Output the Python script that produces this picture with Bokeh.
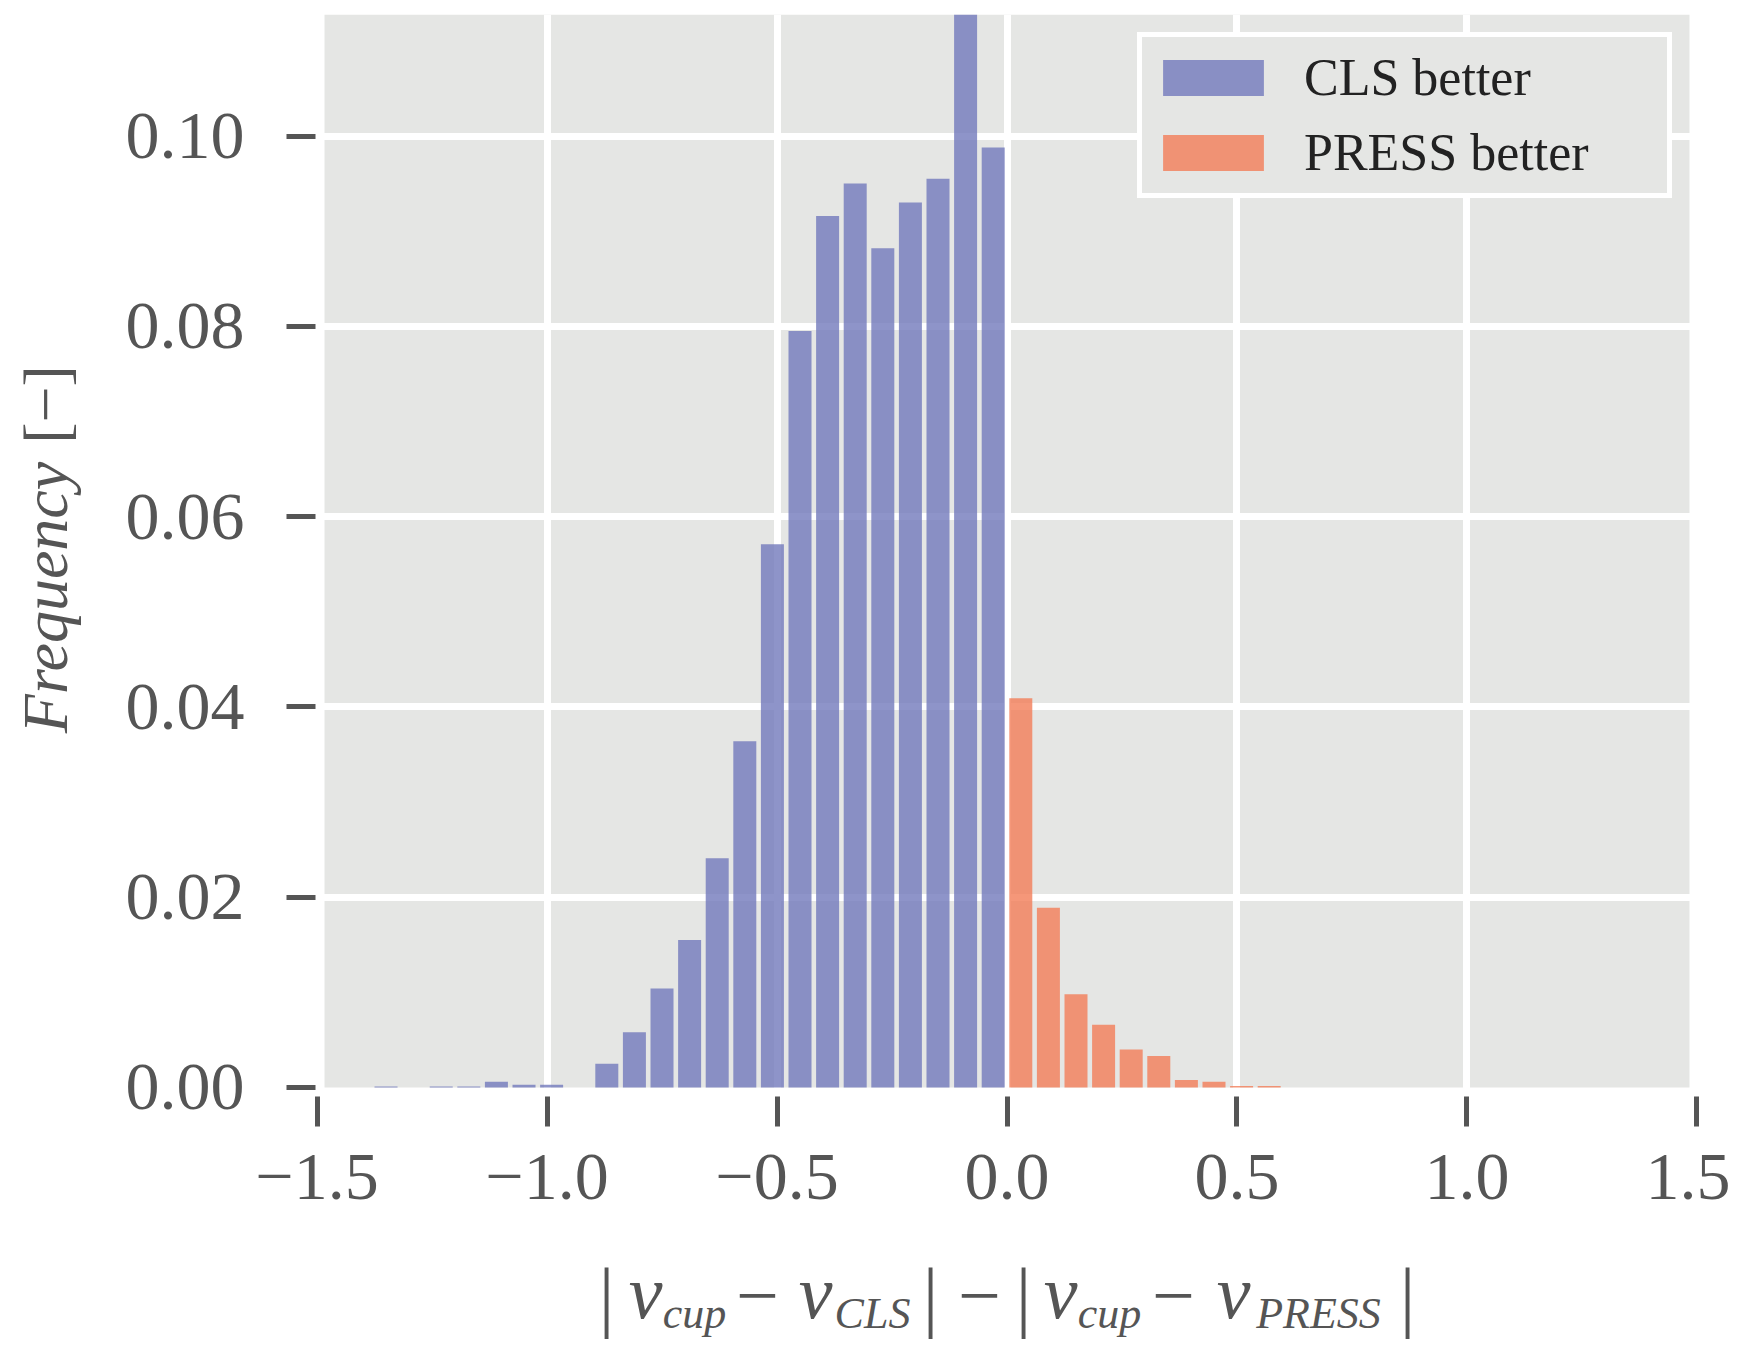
from bokeh.plotting import figure
from bokeh.layouts import column, row
from bokeh.models import Range1d, FixedTicker, Label, Legend, LegendItem
from bokeh.embed import file_html
from bokeh.resources import INLINE

# ---------------- data ----------------
cls_centers = [-1.35, -1.29, -1.23, -1.17, -1.11, -1.05, -0.99, -0.93, -0.87, -0.81,
               -0.75, -0.69, -0.63, -0.57, -0.51, -0.45, -0.39, -0.33, -0.27, -0.21,
               -0.15, -0.09, -0.03]
cls_freq = [0.0001, 0.0, 0.0001, 0.0001, 0.0006, 0.0003, 0.0003, 0.0, 0.0025, 0.0058,
            0.0104, 0.0155, 0.0241, 0.0364, 0.0571, 0.0795, 0.0916, 0.0950, 0.0882, 0.0930,
            0.0955, 0.1160, 0.0988]
press_centers = [0.03, 0.09, 0.15, 0.21, 0.27, 0.33, 0.39, 0.45, 0.51, 0.57]
press_freq = [0.0409, 0.0189, 0.0098, 0.0066, 0.0040, 0.0033, 0.0008, 0.0006, 0.00015, 0.00015]

x_ticks = [-1.5, -1.0, -0.5, 0.0, 0.5, 1.0, 1.5]
x_tick_labels = ["\u22121.5", "\u22121.0", "\u22120.5", "0.0", "0.5", "1.0", "1.5"]
y_ticks = [0.0, 0.02, 0.04, 0.06, 0.08, 0.10]
y_tick_labels = ["0.00", "0.02", "0.04", "0.06", "0.08", "0.10"]

legend_labels = ["CLS better", "PRESS better"]

# ---------------- style / layout ----------------
FONT = "Liberation Serif"
PANEL = "#e5e6e4"
BLUE = "#7279bb"
ORANGE = "#f27d58"
TXT = "#555555"
BAR_W = 0.05
PANEL_XMAX = 1.4837
X_END = 1.5033
Y_START, Y_END = -0.000946, 0.11277

W = 1730            # total width
WL = 110            # width of the y-title strip
H1 = 1240           # height of the main plot row
H2 = 102            # height of the x-title strip
FRAME_L, FRAME_T, FRAME_W, FRAME_H = 315, 14, 1383, 1082
FRAME_B = H1 - FRAME_T - FRAME_H

p = figure(width=W - WL, height=H1, output_backend="svg", toolbar_location=None,
           x_range=Range1d(-X_END, X_END), y_range=Range1d(Y_START, Y_END),
           min_border_left=FRAME_L - WL, min_border_right=W - FRAME_L - FRAME_W,
           min_border_top=FRAME_T, min_border_bottom=FRAME_B)
p.background_fill_color = "white"
p.border_fill_color = "white"
p.outline_line_color = None

# grey panel (drawn beneath grid lines)
p.quad(left=[-PANEL_XMAX], right=[PANEL_XMAX], bottom=[0], top=[Y_END],
       fill_color=PANEL, line_color=None, level="image")

# grid
p.xgrid.ticker = FixedTicker(ticks=[t for t in x_ticks if abs(t) < PANEL_XMAX])
p.ygrid.ticker = FixedTicker(ticks=[t for t in y_ticks if t > 0])
for g in (p.xgrid, p.ygrid):
    g.grid_line_color = "white"
    g.grid_line_width = 7

# bars
r_cls = p.vbar(x=cls_centers, top=cls_freq, bottom=0, width=BAR_W,
               fill_color=BLUE, fill_alpha=0.8, line_color=None)
r_press = p.vbar(x=press_centers, top=press_freq, bottom=0, width=BAR_W,
                 fill_color=ORANGE, fill_alpha=0.8, line_color=None)

# axes
p.xaxis.ticker = FixedTicker(ticks=x_ticks)
p.xaxis.major_label_overrides = dict(zip(x_ticks, x_tick_labels))
p.yaxis.ticker = FixedTicker(ticks=y_ticks)
p.yaxis.major_label_overrides = dict(zip(y_ticks, y_tick_labels))
for ax in (p.xaxis[0], p.yaxis[0]):
    ax.axis_line_color = None
    ax.major_tick_in = 0
    ax.major_tick_line_width = 5
    ax.major_tick_line_color = TXT
    ax.minor_tick_line_color = None
    ax.major_label_text_font = FONT
    ax.major_label_text_font_size = "68px"
    ax.major_label_text_color = TXT
p.xaxis.major_tick_out = 30
p.xaxis.major_label_standoff = 28
p.yaxis.major_tick_out = 29
p.yaxis.major_label_standoff = 42

# legend
LEG_PAD, LEG_ITEM_H, LEG_SPACING = 8, 65, 10
leg_h = 2 * LEG_PAD + 2 * LEG_ITEM_H + LEG_SPACING
legend = Legend(items=[LegendItem(label=legend_labels[0], renderers=[r_cls]),
                       LegendItem(label=legend_labels[1], renderers=[r_press])],
                location=(1137 - FRAME_L, FRAME_H - (42 - FRAME_T) - leg_h), margin=0,
                glyph_width=126, glyph_height=45, label_height=LEG_ITEM_H, label_width=355,
                label_standoff=28, spacing=LEG_SPACING, padding=LEG_PAD,
                label_text_font=FONT, label_text_font_size="52px", label_text_color="#222222",
                border_line_color="white", border_line_width=5, border_line_alpha=1,
                background_fill_color=PANEL, background_fill_alpha=1)
p.add_layout(legend)


def text_strip(w, h, x_range, y_range, top=0, bottom=0):
    f = figure(width=w, height=h, output_backend="svg", toolbar_location=None,
               x_range=x_range, y_range=y_range,
               x_axis_type=None, y_axis_type=None, min_border=0,
               min_border_top=top, min_border_bottom=bottom)
    f.outline_line_color = None
    f.background_fill_color = "white"
    f.border_fill_color = "white"
    f.xgrid.visible = False
    f.ygrid.visible = False
    return f


# y axis title strip: "Frequency [−]"; its frame matches the main frame vertically,
# data y = -(page y), data x = page x; positions are text-box centres
ylab = text_strip(WL, H1, Range1d(0, WL), Range1d(-(FRAME_T + FRAME_H), -FRAME_T),
                  top=FRAME_T, bottom=FRAME_B)
for txt, cy, fstyle in [("Frequency", 597, "italic"), ("[\u2212]", 404, "normal")]:
    ylab.add_layout(Label(x=45, y=-cy, text=txt, angle=1.5707963,
                          text_font=FONT, text_font_style=fstyle, text_font_size="64px",
                          text_color=TXT, text_align="center", text_baseline="middle"))

# x axis title strip: |v_cup − v_CLS| − |v_cup − v_PRESS|  (data y = -(page y))
xlab = text_strip(W, H2, Range1d(0, W), Range1d(-(H1 + H2), -H1))
styles = {
    "bar":   dict(size="78px", style="normal", cy=1295),
    "main":  dict(size="76px", style="italic", cy=1291),
    "sub":   dict(size="44px", style="italic", cy=1313),
    "minus": dict(size="76px", style="normal", cy=1295),
}
pieces = [("|", 606, "bar"), ("v", 645, "main"), ("cup", 694, "sub"), ("\u2212", 757, "minus"),
          ("v", 815, "main"), ("CLS", 872, "sub"), ("|", 930, "bar"), ("\u2212", 979, "minus"),
          ("|", 1023, "bar"), ("v", 1060, "main"), ("cup", 1109, "sub"), ("\u2212", 1173, "minus"),
          ("v", 1233, "main"), ("PRESS", 1318, "sub"), ("|", 1407, "bar")]
for txt, px, kind in pieces:
    s = styles[kind]
    xlab.add_layout(Label(x=px, y=-s["cy"], text=txt, text_font=FONT,
                          text_font_style=s["style"], text_font_size=s["size"],
                          text_color=TXT, text_align="center", text_baseline="middle"))

layout = column(row(ylab, p, spacing=0), xlab, spacing=0)
open("out.html", "w").write(file_html(layout, INLINE))
